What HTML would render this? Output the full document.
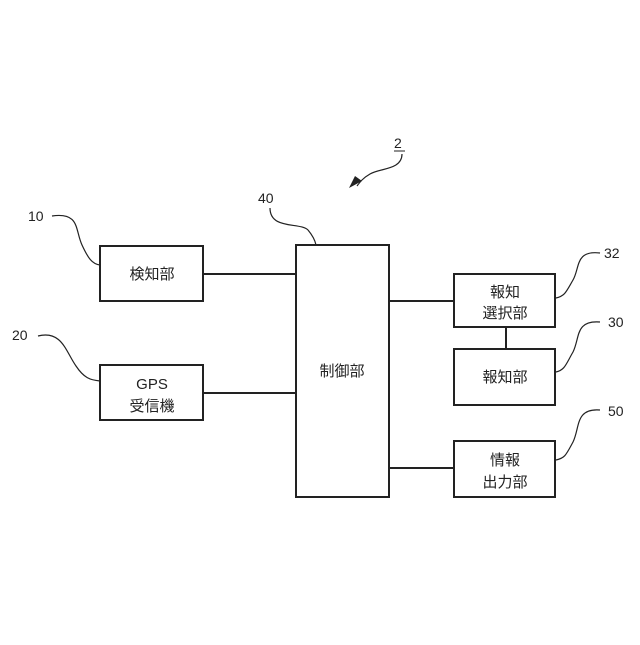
<!DOCTYPE html>
<html><head><meta charset="utf-8"><style>
html,body{margin:0;padding:0;background:#fff}
text{font-family:"Liberation Sans","Noto Sans CJK JP",sans-serif;fill:#222}
</style></head><body>
<svg width="640" height="640" viewBox="0 0 640 640" xmlns="http://www.w3.org/2000/svg">
<g fill="none" stroke="#222" stroke-width="2">
<rect x="100" y="246" width="103" height="55"/>
<rect x="100" y="365" width="103" height="55"/>
<rect x="296" y="245" width="93" height="252"/>
<rect x="454" y="274" width="101" height="53"/>
<rect x="454" y="349" width="101" height="56"/>
<rect x="454" y="441" width="101" height="56"/>
<line x1="203" y1="274" x2="296" y2="274"/>
<line x1="203" y1="393" x2="296" y2="393"/>
<line x1="389" y1="301" x2="454" y2="301"/>
<line x1="389" y1="468" x2="454" y2="468"/>
<line x1="506" y1="327" x2="506" y2="349"/>
</g>
<g fill="none" stroke="#222" stroke-width="1.2">
<path d="M52,216 C80,212 75,230 82,245 C88,258 92,264 100,265"/>
<path d="M38,336 C62,330 66,352 76,366 C84,378 90,380 100,381"/>
<path d="M270,208 C270,230 300,222 308,230 C313,236 315,240 316,245"/>
<path d="M600,253 C575,250 580,268 573,280 C566,292 565,296 556,298"/>
<path d="M600,322 C575,320 580,338 573,352 C566,364 565,370 556,372"/>
<path d="M600,410 C575,408 580,428 573,442 C566,455 565,458 556,460"/>
<path d="M402,154 C402,170 380,168 370,174 C363,178 360,182 357,186"/>
</g>
<path d="M349,188 L362,181 L355,176 Z" fill="#222"/>
<g font-size="14">
<text x="28" y="221">10</text>
<text x="12" y="340">20</text>
<text x="258" y="203">40</text>
<text x="604" y="258">32</text>
<text x="608" y="327">30</text>
<text x="608" y="416">50</text>
<text x="394" y="148">2</text>
</g>
<line x1="394" y1="151" x2="405" y2="151" stroke="#222" stroke-width="1"/>
<g font-size="15" text-anchor="middle">
<text x="152" y="279">検知部</text>
<text x="152" y="389">GPS</text>
<text x="152" y="411">受信機</text>
<text x="342" y="376">制御部</text>
<text x="505" y="297">報知</text>
<text x="505" y="318">選択部</text>
<text x="505" y="382">報知部</text>
<text x="505" y="465">情報</text>
<text x="505" y="487">出力部</text>
</g>
</svg>
</body></html>
